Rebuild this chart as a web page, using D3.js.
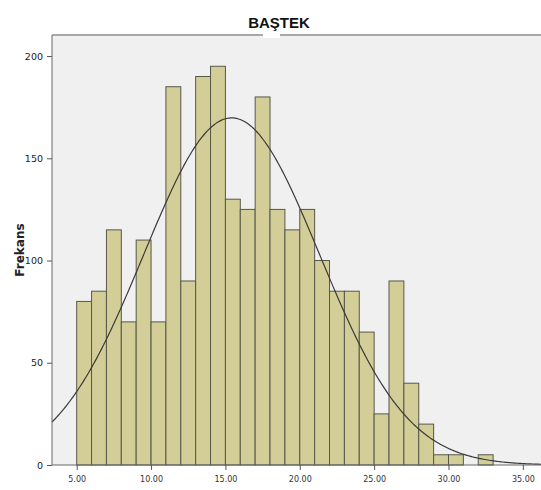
<!DOCTYPE html>
<html>
<head>
<meta charset="utf-8">
<script src="https://cdn.jsdelivr.net/npm/d3@7"></script>
<style>
  body { margin: 0; background: #fff; }
  svg { display: block; }
</style>
</head>
<body>
<svg id="chart"></svg>
<script>
// bin lower edges (bin width 1) and frequencies
const binStarts = [5, 6, 7, 8, 9, 10, 11, 12, 13, 14, 15, 16, 17, 18, 19, 20, 21, 22, 23, 24, 25, 26, 27, 28, 29, 30, 31, 32];
const counts = [80, 85, 115, 70, 110, 70, 185, 90, 190, 195, 130, 125, 180, 125, 115, 125, 100, 85, 85, 65, 25, 90, 40, 20, 5, 5, 0, 5];
const xTicks = [5, 10, 15, 20, 25, 30, 35];
const yTicks = [0, 50, 100, 150, 200];
// fitted normal curve parameters (estimated from the drawn curve)
const curveMean = 15.42;
const curveSd = 5.91;
const binWidth = 1;

const width = 541, height = 490;
const plotLeft = 52, plotRight = 541, plotTop = 35, plotBottom = 465;

const svg = d3.select("#chart").attr("width", width).attr("height", height);

const x = d3.scaleLinear().domain([3.34, 36.22]).range([plotLeft, plotRight]);
const y = d3.scaleLinear().domain([0, 210.3]).range([plotBottom, plotTop]);

// plot background
svg.append("rect")
   .attr("x", plotLeft).attr("y", plotTop)
   .attr("width", plotRight - plotLeft).attr("height", plotBottom - plotTop)
   .attr("fill", "#f0f0f0");

// top frame line
svg.append("line")
   .attr("x1", plotLeft).attr("x2", plotRight)
   .attr("y1", plotTop).attr("y2", plotTop)
   .attr("stroke", "#a8a8a8").attr("stroke-width", 2);

svg.append("rect")
   .attr("x", 263).attr("y", plotTop - 1)
   .attr("width", 17).attr("height", 4)
   .attr("fill", "#fff");

// bars
svg.selectAll(".bar")
   .data(binStarts.map((b, i) => ({ b, c: counts[i] })).filter(d => d.c > 0))
   .enter()
   .append("rect")
   .attr("class", "bar")
   .attr("x", d => x(d.b))
   .attr("y", d => y(d.c))
   .attr("width", d => x(d.b + binWidth) - x(d.b))
   .attr("height", d => y(0) - y(d.c))
   .attr("fill", "#d3ce97")
   .attr("stroke", "#57574a")
   .attr("stroke-width", 1);

// normal curve
const total = d3.sum(counts);
const xs = d3.range(x.domain()[0], x.domain()[1] + 0.05, 0.1);
const curve = d3.line()
  .x(v => x(v))
  .y(v => y(total * binWidth / (curveSd * Math.sqrt(2 * Math.PI)) *
            Math.exp(-((v - curveMean) ** 2) / (2 * curveSd * curveSd))));

svg.append("path")
   .datum(xs)
   .attr("d", curve)
   .attr("fill", "none")
   .attr("stroke", "#3a3a3a")
   .attr("stroke-width", 1.2);

// axes
const xAxis = d3.axisBottom(x).tickValues(xTicks).tickFormat(d3.format(".2f")).tickSizeOuter(0).tickSize(5);
const yAxis = d3.axisLeft(y).tickValues(yTicks).tickFormat(d3.format("d")).tickSizeOuter(0).tickSize(5);

const gx = svg.append("g")
   .attr("transform", `translate(0, ${plotBottom})`)
   .call(xAxis);
gx.select(".domain").attr("stroke", "#666").attr("d", `M${plotLeft},0H${plotRight}`);
gx.selectAll(".tick line").attr("stroke", "#555");
gx.selectAll(".tick text")
  .attr("y", 11)
  .attr("fill", "#333")
  .style("font-family", "DejaVu Sans")
  .style("font-size", "8px");

const gy = svg.append("g")
   .attr("transform", `translate(${plotLeft}, 0)`)
   .call(yAxis);
gy.select(".domain").attr("stroke", "#666").attr("d", `M0,${plotTop}V${plotBottom}`);
gy.selectAll(".tick line").attr("stroke", "#555");
gy.selectAll(".tick text")
  .attr("x", -9)
  .attr("fill", "#222")
  .style("font-family", "DejaVu Sans")
  .style("font-size", "9.5px");

// title
svg.append("text")
   .attr("x", 279).attr("y", 28)
   .attr("text-anchor", "middle")
   .style("font-family", "Liberation Sans, Arial, sans-serif")
   .style("font-weight", "bold")
   .style("font-size", "15px")
   .attr("fill", "#111")
   .text("BAŞTEK");

// y label
svg.append("text")
   .attr("transform", "translate(24, 250) rotate(-90)")
   .attr("text-anchor", "middle")
   .style("font-family", "DejaVu Sans, sans-serif")
   .style("font-weight", "bold")
   .style("font-size", "12px")
   .attr("fill", "#222")
   .text("Frekans");
</script>
</body>
</html>
